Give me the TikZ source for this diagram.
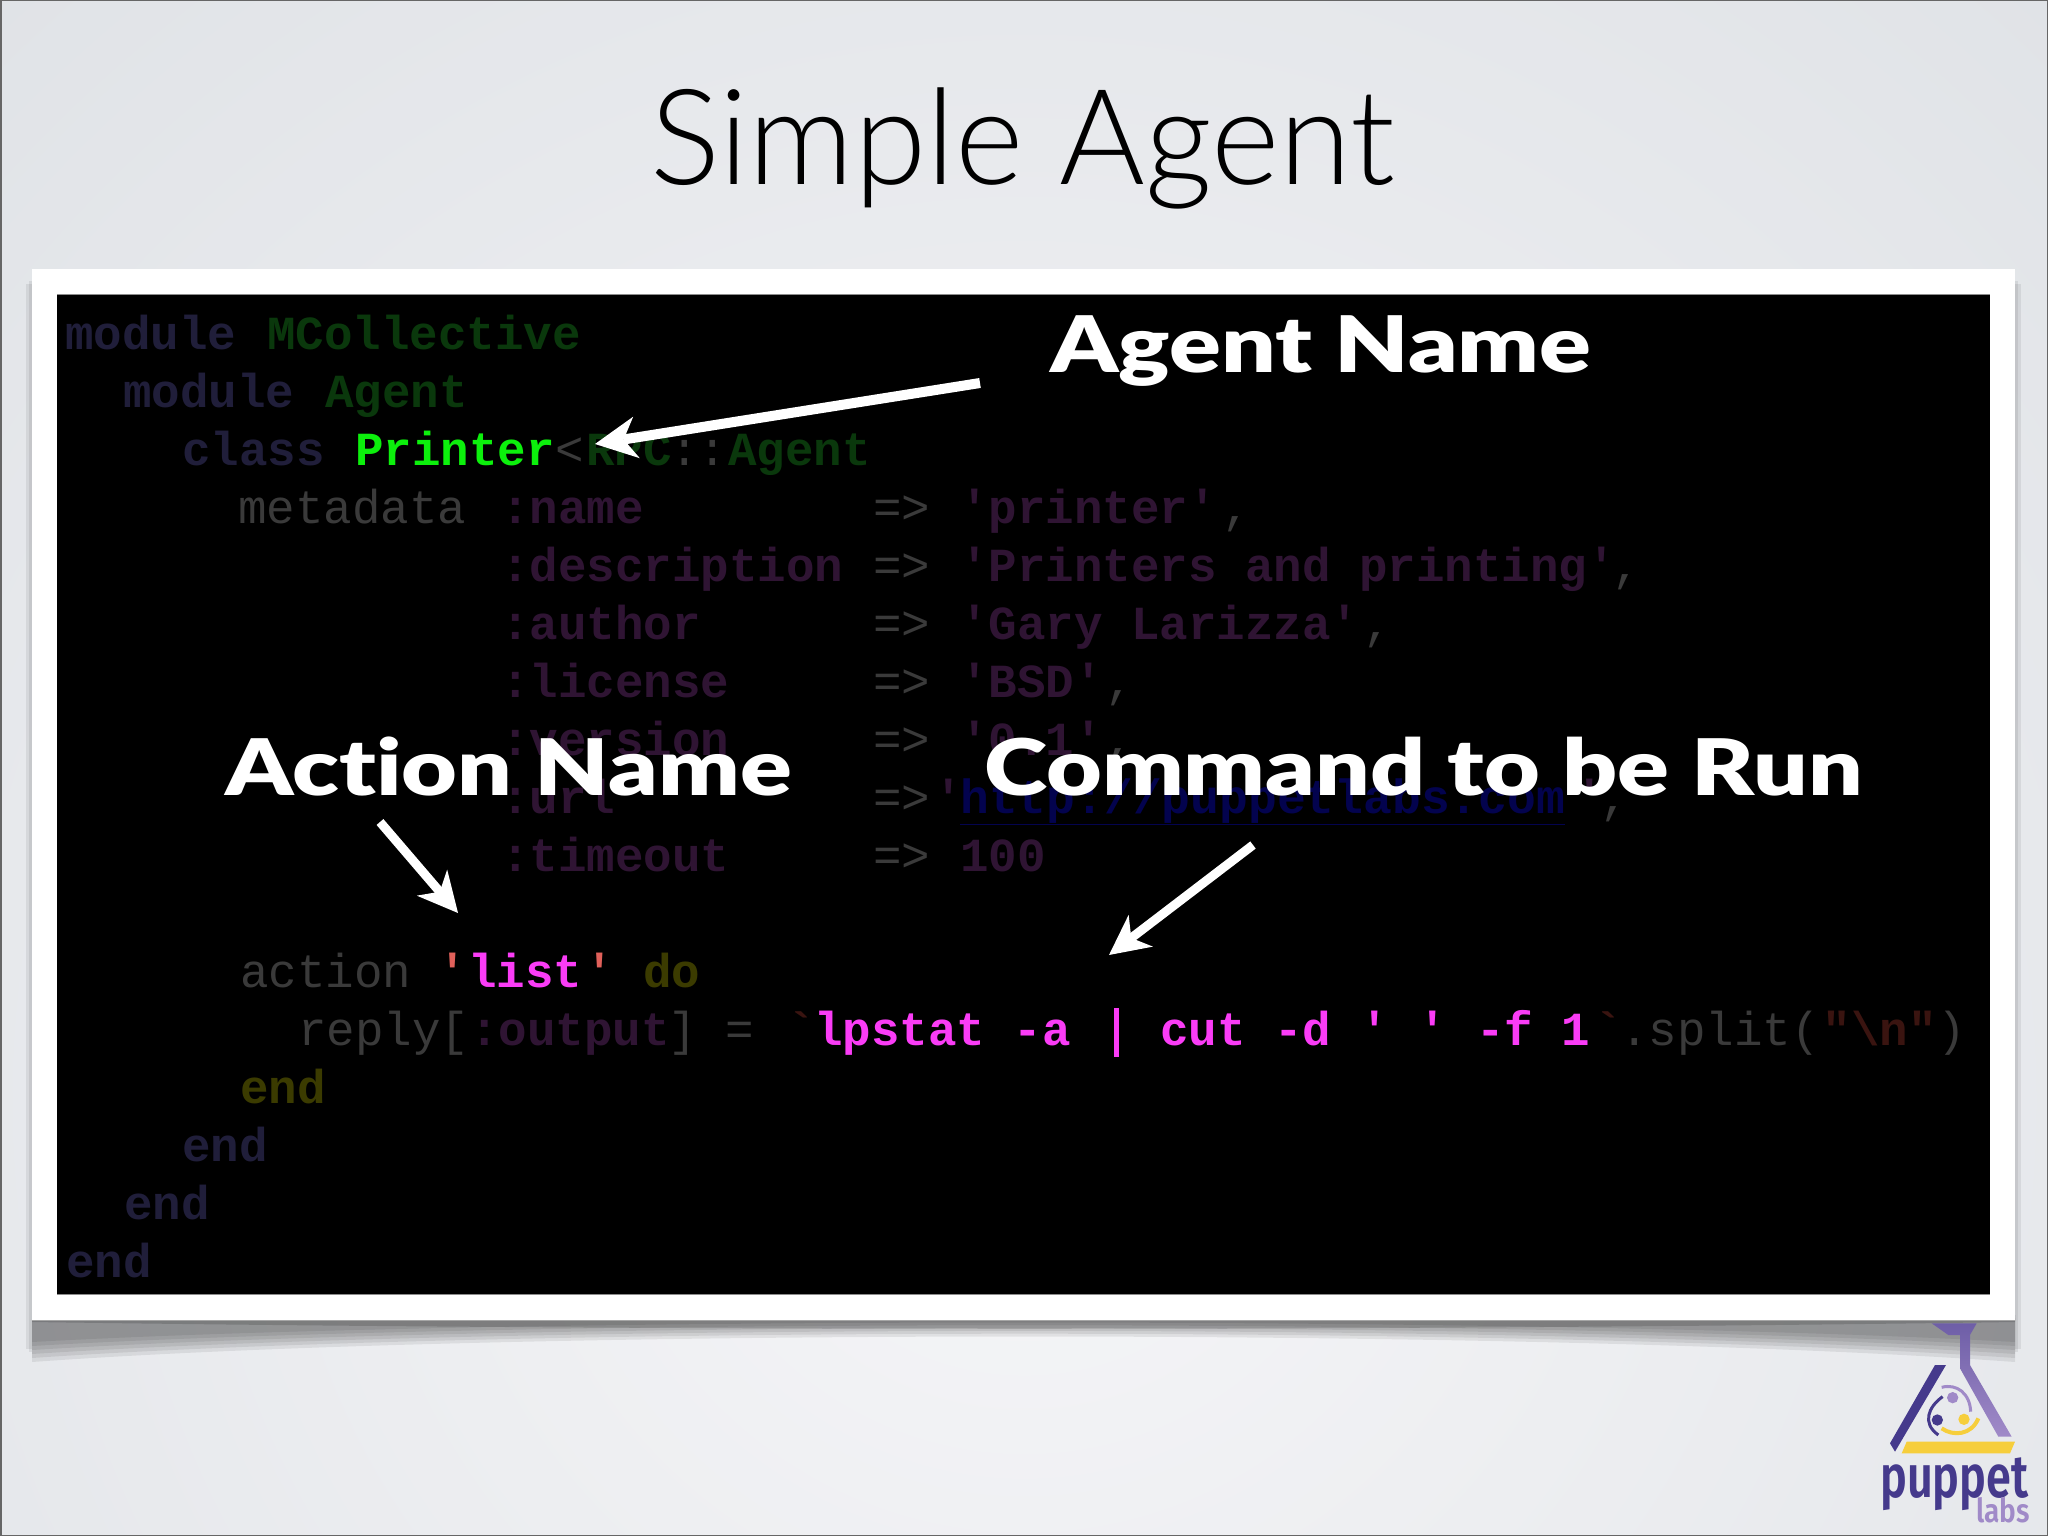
\documentclass[tikz,border=0pt]{standalone}
\usepackage{fontspec}
\usepackage{graphicx}
\usetikzlibrary{arrows.meta}
\setmainfont{Liberation Sans}
\newfontfamily\codefont{Liberation Mono}
\newfontfamily\logofont{Fira Sans}[UprightFont=* SemiBold]
\newfontfamily\titlefont{Lato}[UprightFont=* Light]
\newfontfamily\labelfont{Lato}[UprightFont=* Black,Ligatures=NoCommon]
\newcommand{\widelabel}[1]{\scalebox{1.233}[1]{#1}}
\definecolor{kw}{HTML}{201E3A}
\definecolor{cls}{HTML}{0A380C}
\definecolor{bright}{HTML}{0CF00C}
\definecolor{dimgray}{HTML}{3A3A3A}
\definecolor{sym}{HTML}{2F1433}
\definecolor{link}{HTML}{03034E}
\definecolor{mag}{HTML}{FA3CF6}
\definecolor{oliv}{HTML}{3B3B00}
\definecolor{dimred}{HTML}{3A1410}
\definecolor{quotered}{HTML}{E0605A}
\definecolor{logodark}{HTML}{453A8C}
\definecolor{logolight}{HTML}{A08AC8}
\definecolor{logoyellow}{HTML}{F6CE3C}
\definecolor{bginner}{HTML}{F6F6F8}
\definecolor{bgouter}{HTML}{D6DADF}
\tikzset{
  x=1pt,y=-1pt,
  codeb/.style={anchor=base west,inner sep=0pt,font=\codefont\fontsize{47.5}{47.5}\selectfont\bfseries},
  coder/.style={anchor=base west,inner sep=0pt,text=dimgray,font=\codefont\fontsize{47.5}{47.5}\selectfont},
  callout/.style={anchor=base west,inner sep=0pt,text=white,font=\labelfont\fontsize{78}{78}\selectfont},
  pointer/.style={draw=white,line width=10pt,-{Stealth[length=42pt,width=42pt,inset=13pt,line width=0pt]}},
  pointerb/.style={draw=white,line width=9pt,-{Stealth[length=40pt,width=40pt,inset=12pt,line width=0pt]}},
}
\begin{document}
\begin{tikzpicture}
\useasboundingbox (0,0) rectangle (2048,1536);
\clip (0,0) rectangle (2048,1536);
% background
\shade[inner color=bginner,outer color=bgouter] (-1176,-1100) rectangle (3224,3300);
\draw[black!60,line width=3pt] (0,0) rectangle (2048,1536);
% frame shadow
\foreach \d in {-10,-6,-2,2,6,10}{
  \fill[black,opacity=.075] (32,1315) -- (2015,1315) -- (2015,{1352+\d}) .. controls (1550,{1322+\d*.6}) and (500,{1322+\d*.6}) .. (32,{1352+\d}) -- cycle;
}
\fill[black,opacity=.15] (32,1318) -- (2015,1318) -- (2015,1322) .. controls (1400,1331) and (650,1331) .. (32,1322) -- cycle;
\foreach \w in {3,6}{
  \fill[black,opacity=.07] ({32-\w},{278+\w}) rectangle (32,{1355-\w});
  \fill[black,opacity=.07] (2015,{278+\w}) rectangle ({2015+\w},{1355-\w});
}
\fill[white] (32,269) rectangle (2015,1320);
\draw[black!35,line width=1pt] (32,1320) -- (2015,1320);
\fill[black] (57,294) rectangle (1990,1294);
\draw[black!45,line width=1pt] (57,294) -- (1990,294) (57,1294.5) -- (1990,1294.5);
% title
\node[anchor=base west,inner sep=0pt,text=black,font=\titlefont\fontsize{133}{133}\selectfont] (title) at (650,184) {\scalebox{.985}[1]{Simple Agent}};
% code
\node[codeb,text=kw] (a1) at (65,349) {module};
\node[codeb,text=cls] (a2) at (267,349) {MCollective};
\node[codeb,text=kw] (b1) at (123,407) {module};
\node[codeb,text=cls] (b2) at (325,407) {Agent};
\node[codeb,text=kw] (c1) at (182,465) {class};
\node[codeb,text=bright] (c2) at (355,465) {Printer};
\node[coder] (c3) at (555,465) {<};
\node[codeb,text=cls] (c4) at (586,465) {RPC};
\node[coder] (c5) at (670,465) {::};
\node[codeb,text=cls] (c6) at (728,465) {Agent};
\node[coder] (d1) at (238,523) {metadata};
\node[codeb,text=sym] (d2) at (501,523) {:name};
\node[coder] (d3) at (873,523) {=>};
\node[codeb,text=sym] (d4) at (960,523) {'printer'};
\node[coder] (d5) at (1222,523) {,};
\node[codeb,text=sym] (e2) at (501,581) {:description};
\node[coder] (e3) at (873,581) {=>};
\node[codeb,text=sym] (e4) at (960,581) {'Printers and printing'};
\node[coder] (e5) at (1612,581) {,};
\node[codeb,text=sym] (f2) at (501,639) {:author};
\node[coder] (f3) at (873,639) {=>};
\node[codeb,text=sym] (f4) at (960,639) {'Gary Larizza'};
\node[coder] (f5) at (1363,639) {,};
\node[codeb,text=sym] (g2) at (501,697) {:license};
\node[coder] (g3) at (873,697) {=>};
\node[codeb,text=sym] (g4) at (960,697) {'BSD'};
\node[coder] (g5) at (1105,697) {,};
\node[codeb,text=sym] (h2) at (501,755) {:version};
\node[coder] (h3) at (873,755) {=>};
\node[codeb,text=sym] (h4) at (960,755) {'0.1'};
\node[coder] (h5) at (1105,755) {,};
\node[codeb,text=sym] (i2) at (501,813) {:url};
\node[coder] (i3) at (873,813) {=>};
\node[codeb,text=sym] (i4) at (934,813) {'};
\node[codeb,text=link,font=\codefont\fontsize{48}{48}\selectfont\bfseries] (i6) at (960,813) {\underline{http://puppetlabs.com}};
\node[codeb,text=sym] (i7) at (1575,813) {'};
\node[coder] (i5) at (1600,813) {,};
\node[codeb,text=sym] (j2) at (501,871) {:timeout};
\node[coder] (j3) at (873,871) {=>};
\node[codeb,text=sym] (j4) at (960,871) {100};
\node[coder] (k1) at (240,987) {action};
\node[codeb,text=quotered] (k2) at (438,987) {'};
\node[codeb,text=mag] (k3) at (468,987) {list};
\node[codeb,text=quotered] (k4) at (585,987) {'};
\node[codeb,text=oliv] (k5) at (643,987) {do};
\node[coder] (l1) at (298,1045) {reply[};
\node[codeb,text=sym] (l2) at (470,1045) {:output};
\node[coder] (l3) at (668,1045) {]};
\node[coder] (l4) at (725,1045) {=};
\node[codeb,text=dimred] (l5) at (787,1045) {`};
\node[codeb,text=mag] (l6) at (814,1045) {lpstat -a};
\fill[mag] (1113.5,1008) rectangle (1118.5,1057);
\node[codeb,text=mag] (l7) at (1160,1045) {cut -d};
\node[codeb,text=mag] (l8) at (1360,1045) {'};
\node[codeb,text=mag] (l9) at (1418,1045) {'};
\node[codeb,text=mag] (l10) at (1476,1045) {-f 1};
\node[codeb,text=dimred] (l11) at (1594,1045) {`};
\node[coder] (l12) at (1620,1045) {.split(};
\node[codeb,text=dimred] (l13) at (1822,1045) {"};
\node[codeb,text=dimred] (l14) at (1851,1045) {\textbackslash n};
\node[codeb,text=dimred] (l15) at (1908,1045) {"};
\node[coder] (l16) at (1937,1045) {)};
\node[codeb,text=oliv] (m) at (240,1103) {end};
\node[codeb,text=kw] (n) at (182,1161) {end};
\node[codeb,text=kw] (o) at (124,1219) {end};
\node[codeb,text=kw] (p) at (66,1277) {end};
% callouts
\node[callout] (agentname) at (1050,372) {\widelabel{Agent Name}};
\node[callout] (actionname) at (225,795) {\widelabel{Action Name}};
\node[callout] (cmdname) at (984,795) {\widelabel{Command to be Run}};
\coordinate (p1s) at (980,383);
\coordinate (p1e) at (595,444);
\coordinate (p2s) at (380,822);
\coordinate (p2e) at (458,913);
\coordinate (p3s) at (1253,845);
\coordinate (p3e) at (1109,955);
\draw[pointer] (p1s) -- (p1e);
\draw[pointerb] (p2s) -- (p2e);
\draw[pointerb] (p3s) -- (p3e);
% logo
\begin{scope}[shift={(1820,1300)},x=.3333pt,y=-.3333pt]
\shade[top color=logolight!45!logodark,bottom color=logolight] (335,70) -- (470,70) -- (450,105) -- (450,195) -- (575,410) -- (535,410) -- (420,205) -- (420,105) -- (385,105) -- cycle;
\fill[logodark] (345,195) -- (378,195) -- (225,455) -- (210,430) -- cycle;
\fill[logoyellow] (260,425) -- (585,425) -- (570,460) -- (245,460) -- cycle;
\fill[logodark] (352,360) circle (17);
\fill[logolight] (398,293) circle (17);
\fill[logoyellow] (432,358) circle (17);
\draw[logodark,line width=3pt] (368,290) .. controls (325,320) and (305,370) .. (355,405);
\draw[logolight,line width=3pt] (365,262) .. controls (410,250) and (450,280) .. (452,335);
\draw[logoyellow,line width=4pt] (365,385) .. controls (400,410) and (455,405) .. (475,355);
\end{scope}
\node[anchor=base west,inner sep=0pt,text=logodark,font=\logofont\fontsize{60}{60}\selectfont] (puppet) at (1880,1497) {\scalebox{.75}[1]{puppet}};
\node[anchor=base west,inner sep=0pt,text=logolight,font=\logofont\fontsize{33}{33}\selectfont] (labs) at (1976,1522) {\scalebox{.85}[1]{labs}};
\end{tikzpicture}
\end{document}
